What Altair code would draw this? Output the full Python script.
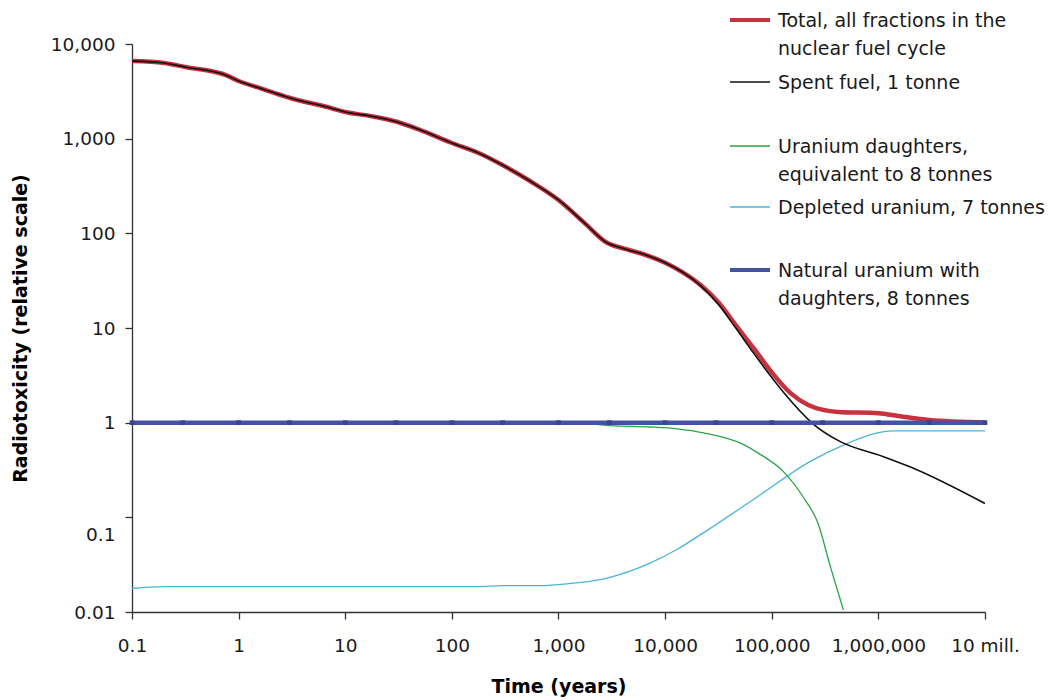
import altair as alt
import pandas as pd

# ---- series (years, relative radiotoxicity) ----
total_years = [0.1, 0.2, 0.316, 0.75, 1, 1.67, 3.05, 7.3, 10, 17, 31, 50, 100, 176, 295, 540,
               1000, 1800, 2770, 4300, 6600, 10000, 14500, 21500, 32000, 46000, 67000,
               100000, 150000, 220000, 420000, 1000000, 1600000, 3000000, 10000000]
total_vals = [6600, 6300, 5710, 4710, 4070, 3350, 2690, 2110, 1910, 1740, 1500, 1240, 900, 710, 530, 357,
              225, 125, 81, 68, 59, 49, 39, 28.5, 18.4, 10.7, 6.2,
              3.4, 2.05, 1.54, 1.30, 1.26, 1.17, 1.07, 1.01]

spent_years = [0.1, 0.2, 0.316, 0.75, 1, 1.67, 3.05, 7.3, 10, 17, 31, 50, 100, 176, 295, 540,
               1000, 1800, 2770, 4300, 6600, 10000, 14500, 21500, 32000, 46000, 67000,
               100000, 130000, 250000, 440000, 1100000, 2000000, 10000000]
spent_vals = [6600, 6300, 5710, 4710, 4070, 3350, 2690, 2110, 1910, 1740, 1500, 1240, 900, 710, 530, 357,
              225, 125, 81, 68, 59, 49, 39, 28, 17.5, 10, 5.5,
              3.0, 2.07, 0.95, 0.63, 0.44, 0.34, 0.14]

daughters_years = [0.1, 1, 10, 100, 1000, 2000, 3100, 7300, 13000, 23000, 54000, 74000,
                   130000, 200000, 270000, 355000, 470000]
daughters_vals = [1.0, 1.0, 1.0, 1.0, 1.0, 0.97, 0.93, 0.90, 0.86, 0.78, 0.59, 0.48,
                  0.30, 0.16, 0.088, 0.030, 0.0105]

depleted_years = [0.1, 0.2, 170, 300, 730, 1000, 2150, 3100, 7300, 13000, 23000, 74000,
                  230000, 470000, 980000, 1350000, 10000000]
depleted_vals = [0.0177, 0.0185, 0.0185, 0.019, 0.019, 0.0195, 0.0214, 0.0234, 0.033, 0.046, 0.069, 0.166,
                 0.39, 0.58, 0.78, 0.82, 0.82]

natural_years = [0.1, 0.3, 1, 3, 10, 30, 100, 300, 1000, 3000, 10000, 30000,
                 100000, 300000, 1000000, 3000000, 10000000]
natural_vals = [1.0] * len(natural_years)

# ---- axis ticks ----
x_tick_values = [0.1, 1, 10, 100, 1000, 10000, 100000, 1000000, 10000000]
x_tick_labels = ["0.1", "1", "10", "100", "1,000", "10,000", "100,000", "1,000,000", "10 mill."]
y_tick_values = [0.01, 0.1, 1, 10, 100, 1000, 10000]
y_tick_labels = ["0.01", "0.1", "1", "10", "100", "1,000", "10,000"]

# ---- legend ----
legend_labels = [
    ["Total, all fractions in the", "nuclear fuel cycle"],
    ["Spent fuel, 1 tonne"],
    ["Uranium daughters,", "equivalent to 8 tonnes"],
    ["Depleted uranium, 7 tonnes"],
    ["Natural uranium with", "daughters, 8 tonnes"],
]

RED = "#c8323e"
BLACK = "#111111"
GREEN = "#2aa54a"
CYAN = "#49b6d6"
BLUE = "#4352a2"
TEXT = "#1a1a1a"
FONT = "DejaVu Sans"


def label_expr(values, labels):
    expr = "''"
    for v, lab in zip(values, labels):
        expr = f"abs(log(datum.value) - log({v})) < 0.01 ? '{lab}' : ({expr})"
    return expr


x_axis = alt.Axis(
    values=x_tick_values, labelExpr=label_expr(x_tick_values, x_tick_labels),
    grid=False, tickSize=7, tickColor="#333333", tickWidth=1.3,
    domainColor="#333333", domainWidth=1.3,
    labelFont=FONT, labelFontSize=18.5, labelColor=TEXT, labelPadding=17,
    labelFlush=False, labelOverlap=False,
    titleFont=FONT, titleFontSize=19, titleFontWeight="bold", titleColor="#000000",
    titlePadding=23,
)
y_axis = alt.Axis(
    values=y_tick_values, labelExpr=label_expr(y_tick_values, y_tick_labels),
    grid=False, tickSize=7, tickColor="#333333", tickWidth=1.3,
    domainColor="#333333", domainWidth=1.3,
    labelFont=FONT, labelFontSize=18.5, labelColor=TEXT, labelPadding=10,
    labelFlush=False, labelOverlap=False,
    labelOffset=alt.condition("abs(datum.value - 0.1) < 0.001", alt.value(17), alt.value(0)),
    titleFont=FONT, titleFontSize=19, titleFontWeight="bold", titleColor="#000000",
    titlePadding=20,
)

x_scale = alt.Scale(type="log", domain=[0.1, 10000000])
y_scale = alt.Scale(type="log", domain=[0.01, 10000])


def series(years, vals):
    return pd.DataFrame({"years": years, "value": vals})


def line(years, vals, color, width):
    return alt.Chart(series(years, vals)).mark_line(
        color=color, strokeWidth=width, clip=True, interpolate="monotone"
    ).encode(
        x=alt.X("years:Q", scale=x_scale, axis=x_axis, title="Time (years)"),
        y=alt.Y("value:Q", scale=y_scale, axis=y_axis, title="Radiotoxicity (relative scale)"),
    )


layers = [
    line(depleted_years, depleted_vals, CYAN, 1.3),
    line(daughters_years, daughters_vals, GREEN, 1.3),
    line(total_years, total_vals, RED, 4.5),
    line(spent_years, spent_vals, BLACK, 1.6),
    line(natural_years, natural_vals, BLUE, 4.5),
    alt.Chart(series(natural_years, natural_vals)).mark_square(
        color="#37458f", size=22, opacity=1
    ).encode(
        x=alt.X("years:Q", scale=x_scale),
        y=alt.Y("value:Q", scale=y_scale),
    ),
]

# legend drawn at the top right, outside the plotting area
dummy = pd.DataFrame({"k": [0]})
legend_colors = [RED, BLACK, GREEN, CYAN, BLUE]
legend_widths = [4, 1.3, 1.3, 1.3, 4]
legend_rule_y = [-24, 38, 102, 163, 226]
line_gap = 28
for lines_, color, w, ry in zip(legend_labels, legend_colors, legend_widths, legend_rule_y):
    layers.append(
        alt.Chart(dummy).mark_rule(color=color, strokeWidth=w).encode(
            x=alt.value(598), x2=alt.value(638), y=alt.value(ry)
        )
    )
    for i, txt in enumerate(lines_):
        layers.append(
            alt.Chart(dummy).mark_text(
                align="left", baseline="alphabetic", font=FONT, fontSize=19, color=TEXT
            ).encode(
                x=alt.value(646), y=alt.value(ry + 7 + i * line_gap), text=alt.value(txt)
            )
        )

chart = alt.layer(*layers).properties(
    width=853,
    height=568,
    autosize=alt.AutoSizeParams(type="none"),
    padding={"left": 132, "top": 44, "right": 78, "bottom": 88},
    background="#ffffff",
).configure_view(stroke=None)

chart.save("out.html", embed_options={"renderer": "svg", "actions": False})
